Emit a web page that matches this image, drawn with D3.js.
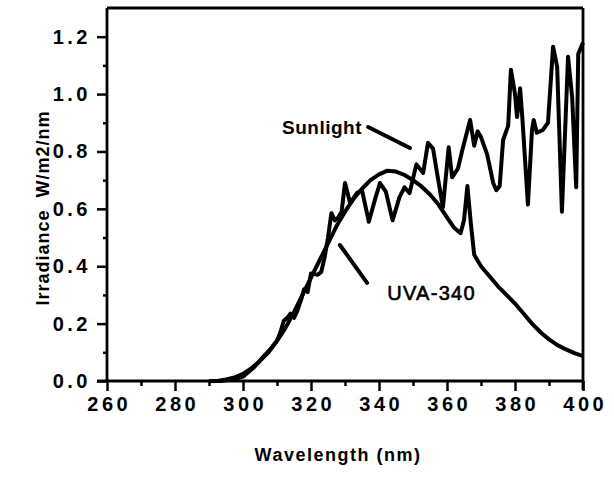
<!DOCTYPE html>
<html>
<head>
<meta charset="utf-8">
<script src="https://cdn.jsdelivr.net/npm/d3@7/dist/d3.min.js"></script>
<style>
  html, body { margin: 0; padding: 0; background: #fff; }
  svg { display: block; }
  text { font-family: "Liberation Sans", Arial, Helvetica, sans-serif; fill: #000; }
</style>
</head>
<body>
<svg id="chart" width="614" height="478"></svg>
<script>
// ---- data ----
const xTicks = [260, 280, 300, 320, 340, 360, 380, 400];
const xMinorTicks = [270, 290, 310, 330, 350, 370, 390];
const yTicks = [0.0, 0.2, 0.4, 0.6, 0.8, 1.0, 1.2];
const yMinorTicks = [0.1, 0.3, 0.5, 0.7, 0.9, 1.1];

const uvaWavelength = [290, 292.5, 295, 297.5, 300, 302.5, 305, 307.5, 310, 312.5, 315, 317.5, 320, 322.5, 325, 327.5, 330, 332.5, 335, 337.5, 340, 342.5, 345, 347.5, 350, 352.5, 355, 357.5, 360, 362, 364, 365, 366, 367, 368, 370, 372.5, 375, 377.5, 380, 382.5, 385, 387.5, 390, 392.5, 395, 397.5, 400];
const uvaIrradiance = [0.0, 0.0, 0.005, 0.012, 0.025, 0.045, 0.07, 0.10, 0.14, 0.185, 0.24, 0.30, 0.36, 0.42, 0.48, 0.54, 0.59, 0.635, 0.67, 0.70, 0.72, 0.733, 0.73, 0.718, 0.70, 0.678, 0.65, 0.615, 0.57, 0.535, 0.515, 0.56, 0.68, 0.55, 0.44, 0.40, 0.365, 0.33, 0.30, 0.27, 0.235, 0.20, 0.17, 0.145, 0.125, 0.11, 0.097, 0.087];

const sunWavelength = [293, 297, 300, 303, 306, 308, 310, 311, 312, 313, 314, 315, 316, 317, 318, 319, 320, 322, 323, 324, 325, 326, 327, 328, 329, 330, 331.5, 333.5, 335, 337, 339, 340.3, 342, 344, 346, 347.5, 349, 351, 353, 354.4, 355.9, 357, 358.8, 360.5, 361.5, 363.2, 364.4, 366.8, 368, 369, 370, 371.8, 373.6, 374.5, 375.5, 376.5, 378, 378.8, 380, 380.6, 381.5, 382.2, 383.8, 385, 385.5, 386.4, 388.2, 389.7, 391.2, 392.4, 393.8, 395.6, 396.8, 398, 398.6, 400];
const sunIrradiance = [0.0, 0.005, 0.015, 0.045, 0.085, 0.11, 0.14, 0.17, 0.21, 0.22, 0.235, 0.22, 0.245, 0.28, 0.32, 0.31, 0.375, 0.37, 0.38, 0.43, 0.5, 0.585, 0.56, 0.57, 0.59, 0.69, 0.62, 0.655, 0.665, 0.555, 0.64, 0.69, 0.66, 0.56, 0.64, 0.675, 0.655, 0.755, 0.725, 0.83, 0.81, 0.73, 0.605, 0.815, 0.71, 0.74, 0.8, 0.91, 0.82, 0.87, 0.85, 0.79, 0.69, 0.665, 0.68, 0.84, 0.89, 1.085, 1.0, 0.92, 1.02, 0.91, 0.615, 0.875, 0.91, 0.865, 0.875, 0.9, 1.165, 1.095, 0.59, 1.13, 0.99, 0.675, 1.14, 1.18];

const xLabel = "Wavelength (nm)";
const yLabel = "Irradiance  W/m2/nm";
const sunLabel = "Sunlight";
const uvaLabel = "UVA-340";

// ---- layout ----
const mLeft = 107, mRight = 583, mTop = 8, mBottom = 381;
const svg = d3.select("#chart");
const x = d3.scaleLinear().domain([260, 400]).range([mLeft, mRight]);
const y = d3.scaleLinear().domain([0, 1.3]).range([mBottom, mTop]);

const ink = "#000";
const tickLS = 3.5;

// frame top & right
svg.append("line").attr("x1", mLeft).attr("x2", mRight).attr("y1", mTop).attr("y2", mTop)
  .attr("stroke", ink).attr("stroke-width", 2.8);
svg.append("line").attr("x1", mRight).attr("x2", mRight).attr("y1", mTop).attr("y2", mBottom + 9)
  .attr("stroke", ink).attr("stroke-width", 2.8);

// x axis
const xAxis = d3.axisBottom(x).tickValues(xTicks).tickSize(10).tickPadding(6).tickFormat(d3.format("d"));
const gx = svg.append("g").attr("transform", `translate(0,${mBottom})`).call(xAxis);
gx.select(".domain").attr("stroke-width", 2.8).attr("d", `M${mLeft - 10},0H${mRight}`);
gx.selectAll(".tick line").attr("stroke-width", 2.5);
gx.selectAll(".tick text").style("font-size", "20px").style("font-weight", "bold")
  .style("letter-spacing", tickLS + "px").attr("dy", "0.72em").attr("dx", tickLS / 2);
const gxm = svg.append("g").attr("transform", `translate(0,${mBottom})`)
  .call(d3.axisBottom(x).tickValues(xMinorTicks).tickSize(5).tickFormat(""));
gxm.select(".domain").remove();
gxm.selectAll(".tick line").attr("stroke-width", 2.5);

// y axis
const yAxis = d3.axisLeft(y).tickValues(yTicks).tickSize(10).tickPadding(6).tickFormat(d3.format(".1f"));
const gy = svg.append("g").attr("transform", `translate(${mLeft},0)`).call(yAxis);
gy.select(".domain").attr("stroke-width", 2.8).attr("d", `M0,${mTop}V${mBottom}`);
gy.selectAll(".tick line").attr("stroke-width", 2.5);
gy.selectAll(".tick text").style("font-size", "20px").style("font-weight", "bold")
  .style("letter-spacing", tickLS + "px");
const gym = svg.append("g").attr("transform", `translate(${mLeft},0)`)
  .call(d3.axisLeft(y).tickValues(yMinorTicks).tickSize(4).tickFormat(""));
gym.select(".domain").remove();
gym.selectAll(".tick line").attr("stroke-width", 2.5);

// curves
const uva = uvaWavelength.map((w, i) => [w, uvaIrradiance[i]]);
const sun = sunWavelength.map((w, i) => [w, sunIrradiance[i]]);
const lineGen = d3.line().x(d => x(d[0])).y(d => y(d[1]));

svg.append("path").datum(uva).attr("d", lineGen)
  .attr("fill", "none").attr("stroke", ink).attr("stroke-width", 4).attr("stroke-linejoin", "round");
svg.append("path").datum(sun).attr("d", lineGen)
  .attr("fill", "none").attr("stroke", ink).attr("stroke-width", 4).attr("stroke-linejoin", "round");

// annotations (data coordinates)
const annotations = [
  { text: sunLabel, tx: 335, ty: 0.86, anchor: "end", weight: "bold", size: 19, spacing: 0.5,
    l: [[336.8, 0.885], [349.1, 0.812]] },
  { text: uvaLabel, tx: 342.4, ty: 0.282, anchor: "start", weight: "normal", size: 20, spacing: 1.3,
    l: [[328.5, 0.474], [336.5, 0.342]] }
];
annotations.forEach(a => {
  svg.append("text").attr("x", x(a.tx)).attr("y", y(a.ty)).attr("text-anchor", a.anchor)
    .style("font-size", a.size + "px").style("font-weight", a.weight).style("letter-spacing", a.spacing + "px")
    .attr("stroke", ink).attr("stroke-width", a.weight === "bold" ? 0 : 0.6)
    .text(a.text);
  svg.append("line").attr("x1", x(a.l[0][0])).attr("y1", y(a.l[0][1]))
    .attr("x2", x(a.l[1][0])).attr("y2", y(a.l[1][1]))
    .attr("stroke", ink).attr("stroke-width", 4).attr("stroke-linecap", "round");
});

// axis titles
svg.append("text").attr("x", 338).attr("y", 461).attr("text-anchor", "middle")
  .style("font-size", "18px").style("font-weight", "bold").style("letter-spacing", "1.5px")
  .text(xLabel);
svg.append("text").attr("transform", "translate(49,208) rotate(-90)").attr("text-anchor", "middle")
  .attr("xml:space", "preserve").style("white-space", "pre")
  .style("font-size", "18px").style("font-weight", "bold").style("letter-spacing", "1px")
  .text(yLabel);
</script>
</body>
</html>
